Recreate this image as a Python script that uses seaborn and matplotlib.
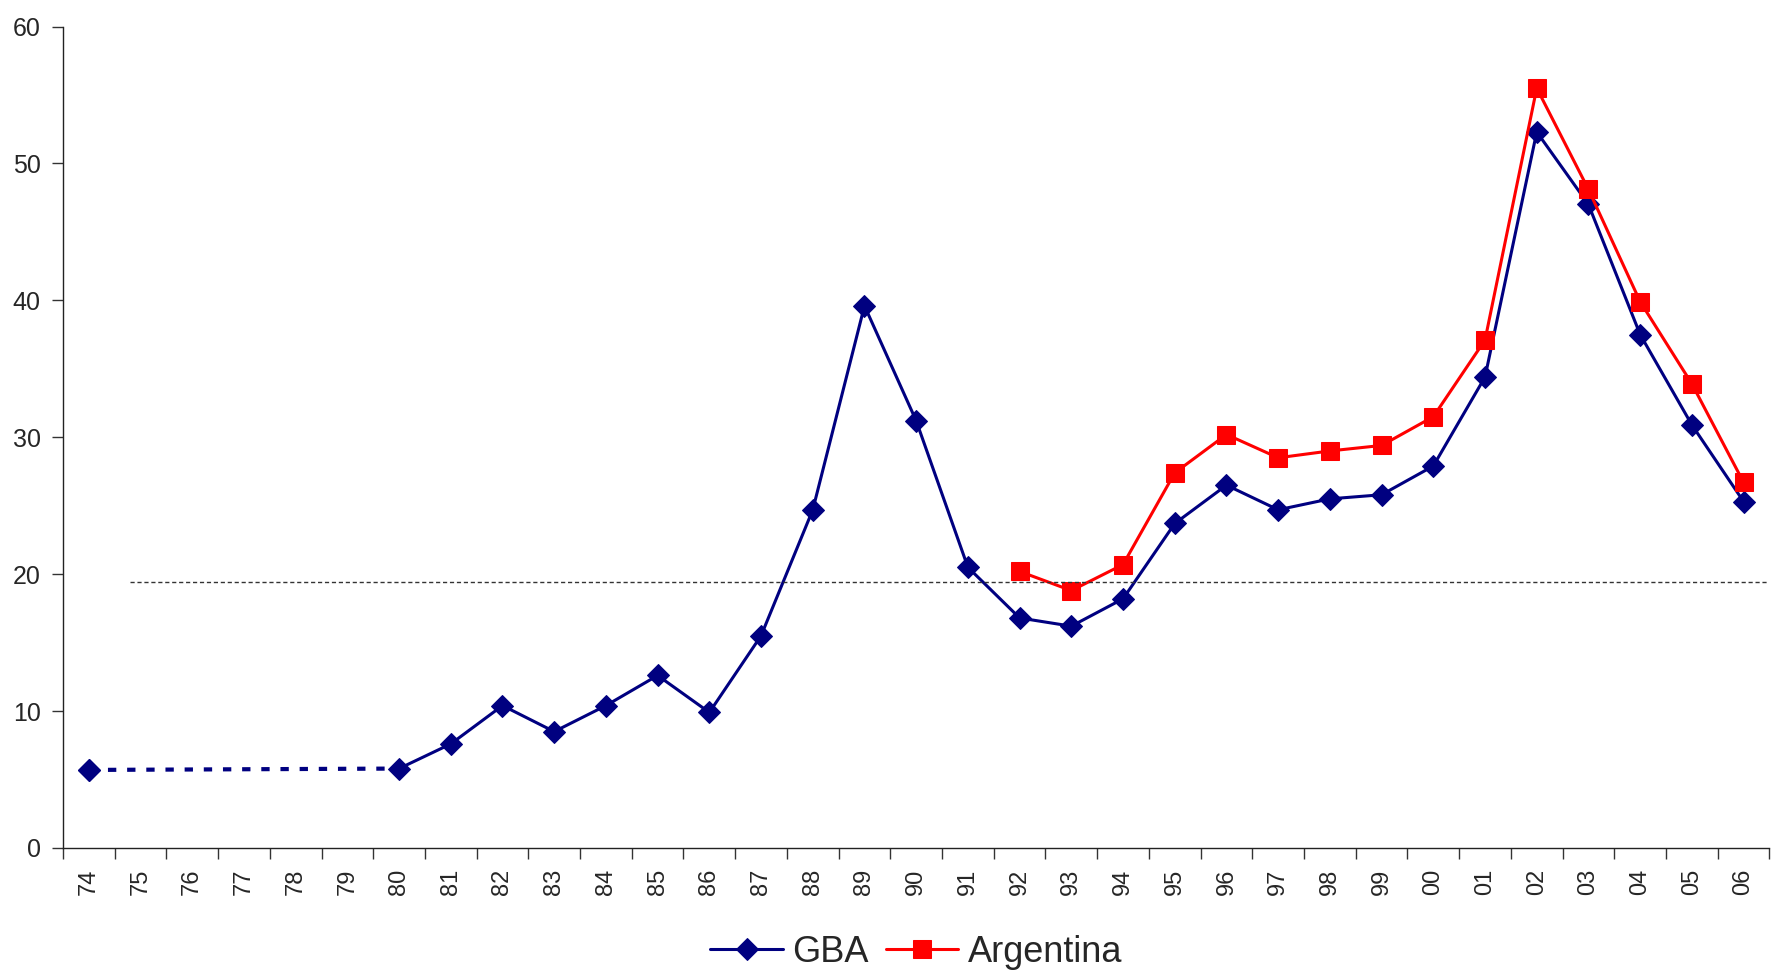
import numpy as np
import pandas as pd
import seaborn as sns
import matplotlib.pyplot as plt

# anos 1974-2006
anos = ["74", "75", "76", "77", "78", "79", "80", "81", "82", "83", "84", "85",
        "86", "87", "88", "89", "90", "91", "92", "93", "94", "95", "96", "97",
        "98", "99", "00", "01", "02", "03", "04", "05", "06"]
gba = [5.7, None, None, None, None, None, 5.8, 7.6, 10.4, 8.5, 10.4, 12.6,
       9.9, 15.5, 24.7, 39.6, 31.2, 20.5, 16.8, 16.2, 18.2, 23.7, 26.5, 24.7,
       25.5, 25.8, 27.9, 34.4, 52.3, 47.0, 37.5, 30.9, 25.3]
argentina = [None] * 18 + [20.2, 18.8, 20.7, 27.4, 30.2, 28.5, 29.0, 29.4,
                           31.5, 37.1, 55.5, 48.1, 39.9, 33.9, 26.7]
media = 19.4

sns.set_style("white")
plt.rcParams['font.family'] = ['Liberation Sans', 'DejaVu Sans']

df = pd.DataFrame({"pos": np.arange(len(anos)), "ano": anos,
                   "GBA": gba, "Argentina": argentina})

fig = plt.figure(figsize=(17.73, 9.71), dpi=100)
ax = fig.add_axes([0.0355, 0.1267, 0.9625, 0.846])

azul = "#000080"
vermelho = "#FF0000"

# tramo sin datos 74-80
tramo = df.loc[[0, 6], ["pos", "GBA"]]
sns.lineplot(data=tramo, x="pos", y="GBA", ax=ax, color=azul, lw=3.0,
             dashes=False, linestyle=(0, (2.0, 2.6)), legend=False)

sns.lineplot(data=df.dropna(subset=["GBA"]).iloc[1:], x="pos", y="GBA", ax=ax,
             color=azul, lw=2.2, marker="D", markersize=11, markeredgecolor=azul,
             label="GBA")
ax.plot(df["pos"][0], df["GBA"][0], marker="D", markersize=11, color=azul)
sns.lineplot(data=df.dropna(subset=["Argentina"]), x="pos", y="Argentina", ax=ax,
             color=vermelho, lw=2.2, marker="s", markersize=13,
             markeredgecolor=vermelho, label="Argentina")

ax.plot([0.8, 32.5], [media, media], color="#333333", lw=1.0, ls=(0, (3, 2)))

ax.set_xlim(-0.5, len(anos) - 0.5)
ax.set_ylim(0, 60)
ax.set_yticks(range(0, 61, 10))
ax.set_xticks(df["pos"], anos, rotation=90)
ax.set_xticks(np.arange(-0.5, len(anos), 1.0), minor=True)
ax.tick_params(axis="x", which="major", length=0, pad=15, labelsize=17)
ax.tick_params(axis="x", which="minor", length=8, width=1, color="#333333",
               direction="out", bottom=True)
ax.tick_params(axis="y", length=8, width=1, color="#333333", direction="out",
               left=True, labelsize=18, pad=8)
ax.set_xlabel("")
ax.set_ylabel("")
for s in ["top", "right"]:
    ax.spines[s].set_visible(False)
for s in ["left", "bottom"]:
    ax.spines[s].set_color("#222222")
    ax.spines[s].set_linewidth(1.0)

ax.legend(loc="center", bbox_to_anchor=(0.5, -0.127), ncol=2,
          frameon=False, fontsize=26, handlelength=2.0, columnspacing=0.5,
          handletextpad=0.25, borderpad=0.1)

fig.savefig("out.png", dpi=100)
